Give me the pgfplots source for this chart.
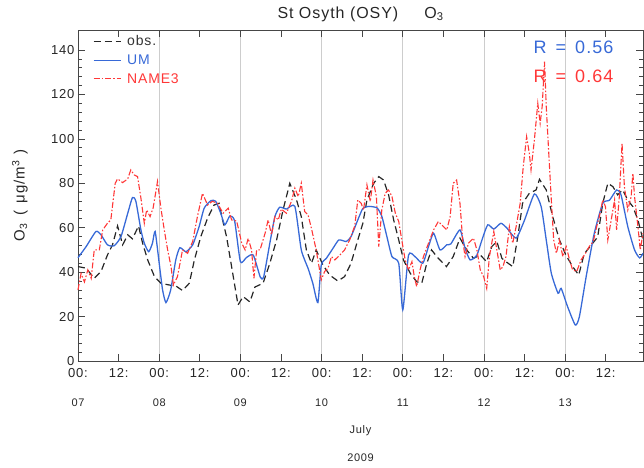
\documentclass[border=0pt]{standalone}
\usepackage{fontspec}
\setmainfont[LetterSpace=6]{Liberation Sans}
\usepackage{pgfplots}
\pgfplotsset{compat=1.18}
\definecolor{umblue}{RGB}{55,105,215}
\definecolor{namered}{RGB}{255,55,55}
\definecolor{gridgray}{RGB}{205,205,205}
\definecolor{axgray}{RGB}{70,70,70}
\begin{document}
\begin{tikzpicture}[x=1pt,y=1pt]
\path[use as bounding box] (-78,-106) rectangle (566,361);
\begin{axis}[
  at={(0,0)}, anchor=south west,
  scale only axis, width=565pt, height=331pt,
  xmin=0, xmax=167, ymin=0, ymax=149,
  clip=false,
  axis line style={axgray, line width=0.8pt},
  tick align=inside, major tick length=7pt, minor tick length=4pt,
  every tick/.style={axgray, line width=0.7pt},
  xtick={0,24,48,72,96,120,144},
  xticklabels={00:,00:,00:,00:,00:,00:,00:},
  extra x ticks={12,36,60,84,108,132,156},
  extra x tick labels={12:,12:,12:,12:,12:,12:,12:},
  extra x tick style={grid=none},
  xmajorgrids, major x grid style={gridgray, line width=0.8pt},
  ytick={0,20,40,60,80,100,120,140}, minor y tick num=4,
  ticklabel style={font=\fontsize{13}{13}\selectfont, text=black!85},
  /pgf/number format/assume math mode=true,
  xticklabel shift=4pt,
  legend style={at={(0.026,0.99)}, anchor=north west, draw=none, fill=none,
    font=\fontsize{14}{15}\selectfont, inner sep=0pt, row sep=3.5pt},
  legend cell align=left,
  legend image code/.code={\draw[#1] (0pt,0pt) -- (27pt,0pt); \path (31pt,0pt);},
]
\addplot[black!85, line width=1.2pt, dash pattern=on 7pt off 4pt] coordinates {
(0,42.5) (2.4,41.8) (4.8,37.2) (6.8,40.3) (8.7,47.7) (10.2,52.3) (11.7,60.8) (13.2,52.3)
(14.7,56.8) (16.1,55) (17.9,60.8) (19.1,53) (20.6,45.5) (22.6,38) (24.5,35) (27.0,34.2)
(28.9,33.8) (30.9,31.7) (32.9,35) (34.4,45.5) (36.3,56) (38.3,64.3) (40.2,70.2) (41.7,71)
(42.5,65) (43.9,56) (45.4,42.5) (47.3,25.2) (48.8,29) (50.8,26.6) (52.3,33.3) (54.7,35)
(56.7,44) (58.7,54.5) (60.6,68) (62.6,80) (64.6,72.5) (66.0,65) (67.5,50) (69.0,44)
(70.4,50) (72.4,43.2) (74.4,38.7) (76.8,36) (78.8,38) (80.7,44) (82.7,54.5) (84.2,62)
(85.4,72.5) (87.4,80) (88.9,83) (90.3,81.5) (91.8,74.8) (93.3,63.5) (94.8,54.5) (96.2,45.5)
(98.2,39.5) (100.1,35.7) (101.6,35) (103.1,44) (104.5,50) (106.5,46.2) (108.9,42.5) (110.9,47)
(112.9,55.3) (114.9,50) (116.9,46.2) (118.9,47.7) (120.8,44.7) (122.3,51.5) (123.8,53.8) (125.3,46.2)
(126.5,44.7) (128.5,42.5) (130.0,56) (131.4,71) (133.4,75.5) (135.4,77) (136.4,81.8) (138.4,77)
(140.3,65) (142.3,54.5) (144.2,47.7) (146.2,42.5) (148.0,38.7) (149.6,48.2) (151.6,52) (153.6,55.8)
(155.1,71) (156.6,80) (158.1,78.5) (159.5,74.8) (161.0,77) (162.5,72.4) (164.0,69.5) (165.5,63.5)
(167.0,54.5)
};
\addlegendentry{\textcolor{black!80}{obs.}}
\addplot[umblue, line width=1.3pt, smooth, tension=0.35] coordinates {
(0,46.5) (2.4,51.5) (5.3,58.3) (6.8,56.8) (8.7,52.3) (10.7,51.9) (12.7,56) (14.7,66.5)
(16.1,73.6) (17.1,71.9) (18.6,59) (19.6,53) (20.9,49.2) (22.0,53) (22.8,58.3) (24.0,44)
(25.0,32) (26.0,26.3) (27.4,32) (28.9,45.5) (30.1,51) (31.9,49.2) (33.9,52.3) (35.8,60.5)
(37.3,68.8) (39.3,72.2) (40.7,71.9) (42.2,66.5) (43.4,61.3) (44.9,65.3) (46.3,63) (48.0,44.7)
(49.8,46.6) (51.8,47.7) (53.9,37.7) (54.9,38) (56.7,53) (58.2,65) (59.6,69.2) (61.6,68.4)
(64.1,69.6) (66.0,50) (68.0,41.7) (69.4,35) (70.9,26.3) (71.9,43.2) (73.4,46.2) (75.4,50.8)
(77.1,54.5) (79.3,53.8) (80.7,56) (82.7,63.5) (84.2,68.7) (86.0,69.6) (88.4,68.9) (89.8,65.1)
(91.3,56) (92.8,47) (94.8,44) (96.0,23) (97.7,47.7) (99.6,47) (101.9,44) (103.6,51.5)
(105.1,57.5) (107.0,50) (109.0,52.3) (110.2,52.7) (112.9,59) (114.4,50.8) (115.9,45.5) (117.9,47.7)
(119.4,54.5) (121.1,61.3) (122.9,59.4) (125.0,62.0) (126.8,59.8) (129.5,55.3) (132.0,63.5) (134.9,75.2)
(136.9,69.5) (138.4,54.5) (139.9,39.5) (141.9,30.5) (142.8,32.7) (144.7,24.5) (147.0,16.2) (148.2,20)
(150.2,38) (152.6,57.5) (155.1,71) (157.1,72.4) (159.2,77) (160.5,74.8) (162.5,60.5) (164.5,50)
(166.0,46.4) (167.0,48.5)
};
\addlegendentry{\textcolor{umblue}{UM}}
\addplot[namered, line width=1.1pt, dash pattern=on 6pt off 2pt on 1.5pt off 2pt] coordinates {
(0,32) (0.9,39.4) (1.9,35.6) (2.9,41) (3.9,37.2) (4.8,50) (6.3,50) (7.3,59)
(8.7,62) (9.7,63.5) (11.0,80) (11.7,82) (13.2,80.3) (14.7,82) (15.6,86) (16.6,83.8)
(17.6,83) (18.6,73.3) (19.6,62) (20.3,68) (21.3,65) (22.2,68.8) (23.5,80.8) (24.5,68.8)
(25.5,59) (26.5,50) (27.5,42.5) (28.2,34.2) (29.4,38) (30.9,50) (32.4,48.5) (33.9,53.8)
(35.3,65) (36.8,75.5) (38.3,70.2) (39.7,71.9) (41.2,71) (42.9,66.5) (44.4,68.8) (45.4,63.5)
(46.9,63) (48.4,53) (49.4,50) (50.3,55.2) (51.3,50) (52.0,37.2) (52.8,50) (53.8,50)
(55.3,57.5) (56.2,63.5) (57.2,56.8) (58.2,65) (59.2,63.5) (60.1,68.4) (61.6,66.5) (63.1,71.9)
(64.1,77.8) (65.1,74) (66.0,80) (67.0,67.3) (68.0,65.8) (69.0,59.7) (70.4,50) (71.9,36.5)
(72.9,40.3) (73.9,41.8) (74.9,47) (75.9,45.5) (77.4,47.7) (78.8,50) (80.3,54.5) (81.8,60.8)
(82.7,72.5) (83.7,71) (84.4,68) (85.4,79.3) (86.4,71.8) (87.2,81.5) (88.2,74) (88.9,51.5)
(89.8,68) (90.8,75.5) (91.8,77) (92.8,74) (93.8,66.5) (94.8,62.8) (95.7,54.5) (96.7,45.5)
(97.7,41) (98.7,44.7) (99.4,38) (100.1,33.5) (101.1,41) (102.1,47) (103.6,53) (105.1,59)
(106.5,62.8) (108.0,60.5) (109.0,59) (110.0,65) (110.9,80) (111.9,81.5) (112.9,71) (113.7,54.5)
(114.4,47) (115.4,53) (116.9,55.3) (117.9,50) (118.9,41) (119.9,38) (120.8,32.7) (121.6,47)
(122.9,58.3) (123.8,50) (124.8,41) (125.6,42.5) (126.5,47) (127.5,60.5) (128.5,53) (129.5,60.5)
(130.7,71) (131.6,87.5) (132.6,101) (133.4,93.5) (133.9,86) (134.9,99.6) (135.9,116) (136.6,107)
(137.2,114.6) (137.9,134.8) (138.4,114.6) (139.2,92) (139.9,72.5) (140.6,54.5) (141.4,48.5) (142.3,54.5)
(143.3,47) (144.3,51.5) (145.3,45.5) (146.2,41) (147.4,40.3) (148.7,45.5) (150.0,48.5) (151.1,51.5)
(152.3,53.8) (153.3,60.5) (154.1,65) (155.1,72.5) (155.9,69.5) (156.6,54.5) (157.6,63.5) (158.6,72.5)
(159.2,59) (160.0,74) (160.8,98) (161.5,78.5) (162.5,68) (163.5,74) (164.0,84.5) (164.5,74)
(165.5,60.5) (166.2,50) (167.0,57.5)
};
\addlegendentry{\textcolor{namered}{NAME3}}
\end{axis}
% R values
\node[anchor=east, text=umblue, font=\fontsize{18}{18}\selectfont] at (539,314) {R\hspace{0.5em}=\hspace{0.5em}0.56};
\node[anchor=east, text=namered, font=\fontsize{18}{18}\selectfont] at (539,285) {R\hspace{0.5em}=\hspace{0.5em}0.64};
% day labels
\foreach \d/\k in {07/0,08/1,09/2,10/3,11/4,12/5,13/6}
  \node[font=\fontsize{11}{11}\selectfont, text=black!85] at ({\k*81.198},-42) {\d};
\node[font=\fontsize{11}{11}\selectfont, text=black!85] at (282.5,-70) {July};
\node[font=\fontsize{11}{11}\selectfont, text=black!85] at (282.5,-97) {2009};
% title
\node[font=\fontsize{16}{16}\selectfont, text=black!85] at (282.5,347) {St Osyth (OSY)\hspace{26pt}O\textsubscript{3}};
% y label
\node[font=\fontsize{15}{15}\selectfont, text=black!85, rotate=90] at (-58,165.5) {O\textsubscript{3}\hspace{0.5em}(\hspace{0.5em}μg/m\textsuperscript{3}\hspace{0.4em})};
\end{tikzpicture}
\end{document}
